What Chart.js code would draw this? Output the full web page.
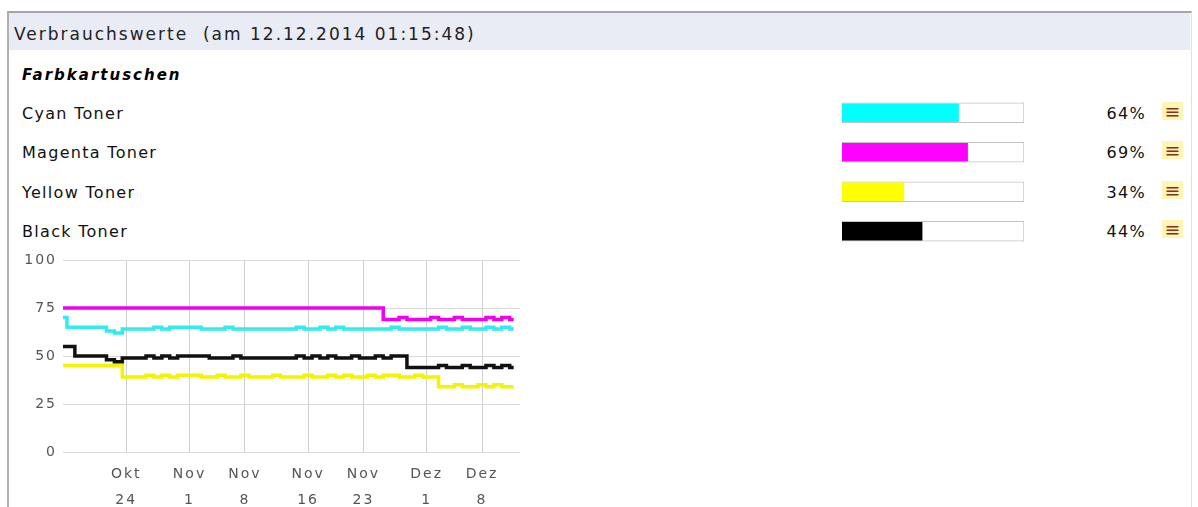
<!DOCTYPE html>
<html><head><meta charset="utf-8">
<script src="https://cdn.jsdelivr.net/npm/chart.js@4.4.1/dist/chart.umd.min.js"></script>
<style>
html,body{margin:0;padding:0;width:1198px;height:507px;overflow:hidden;background:#fff;font-family:"DejaVu Sans",Verdana,sans-serif;}
.abs{position:absolute;white-space:pre;line-height:20px;}
#frame{position:absolute;left:7px;top:11px;width:1182px;height:520px;border-top:2px solid #a6a6a6;border-left:2px solid #b0b0b0;border-right:1px solid #e2e2e2;}
#hdr{position:absolute;left:9px;top:13px;width:1181px;height:37px;background:#e9ebf5;}
#title{left:14px;top:24px;font-size:17px;letter-spacing:2px;color:#222;}
#sub{left:22px;top:65px;font-size:15px;font-weight:bold;font-style:italic;letter-spacing:2px;color:#000;}
.lbl{left:22px;font-size:16px;letter-spacing:1.3px;color:#111;}
.pct{left:1046px;width:100px;text-align:right;font-size:16px;letter-spacing:1.3px;color:#111;}
.ico{position:absolute;left:1162px;width:21px;height:18px;background:#fff5b4;color:#8a2e16;font-size:19px;line-height:18px;text-align:center;}
#barsBox{position:absolute;left:842px;top:93px;}
#histBox{position:absolute;left:0px;top:240px;}
</style>
</head><body>
<div id="frame"></div>
<div id="hdr"></div>
<div id="title" class="abs">Verbrauchswerte  (am 12.12.2014 01:15:48)</div>
<div id="sub" class="abs">Farbkartuschen</div>
<div id="rows"></div>
<div id="barsBox"><canvas id="bars" width="182" height="158"></canvas></div>
<div id="histBox"><canvas id="hist" width="540" height="272"></canvas></div>
<script>
// ---- data ----
const tonerNames = ["Cyan Toner", "Magenta Toner", "Yellow Toner", "Black Toner"];
const tonerLevels = [64, 69, 34, 44];
const tonerColors = ["#00ffff", "#ff00ff", "#ffff00", "#000000"];
const tonerTrack = [100, 100, 100, 100];

// history: one value per day, day 0 = 16.10.2014 ... day 57 = 12.12.2014
const tickDays = [8, 16, 23, 31, 38, 46, 53];
const tickLabels = [["Okt", "24"], ["Nov", "1"], ["Nov", "8"], ["Nov", "16"], ["Nov", "23"], ["Dez", "1"], ["Dez", "8"]];
const yTicks = [0, 25, 50, 75, 100];

const magentaHist = [75,75,75,75,75,75,75,75,75,75, 75,75,75,75,75,75,75,75,75,75,
                     75,75,75,75,75,75,75,75,75,75, 75,75,75,75,75,75,75,75,75,75,
                     75,69,69,70,69,69,69,70,69,69, 70,69,69,69,70,69,70,69];
const cyanHist =    [70,65,65,65,65,65,63,62,64,64, 64,64,65,64,65,65,65,65,64,64,
                     64,65,64,64,64,64,64,64,64,64, 65,64,64,65,64,65,64,64,64,64,
                     64,64,65,64,64,64,64,64,65,64, 64,65,64,64,65,64,65,64];
const blackHist =   [55,55,50,50,50,50,48,47,49,49, 49,50,49,50,49,50,50,50,50,49,
                     49,49,50,49,49,49,49,49,49,49, 50,49,50,49,50,49,49,50,49,49,
                     50,49,50,50,44,44,44,44,45,44, 44,45,44,44,45,44,45,44];
const yellowHist =  [45,45,45,45,45,45,45,45,39,39, 39,40,39,40,39,40,40,40,39,39,
                     40,39,39,40,39,39,39,40,39,39, 39,40,39,39,40,39,40,39,39,40,
                     39,40,40,39,39,40,39,39,34,34, 35,34,34,35,34,35,34,34];
const dayIndex = magentaHist.map((v, i) => i);

// ---- text rows ----
const rows = document.getElementById('rows');
tonerNames.forEach((n, i) => {
  const top = 104 + 39.4 * i;
  rows.insertAdjacentHTML('beforeend',
    `<div class="abs lbl" style="top:${top}px">${n}</div>` +
    `<div class="abs pct" style="top:${top}px">${tonerLevels[i]}%</div>` +
    `<div class="ico" style="top:${top - 2}px">≡</div>`);
});

// ---- toner bars ----
new Chart(document.getElementById('bars'), {
  type: 'bar',
  data: {
    labels: tonerNames,
    datasets: [
      { data: tonerLevels, backgroundColor: tonerColors, borderWidth: 0, barThickness: 18, grouped: false, order: 1 },
      { data: tonerTrack, backgroundColor: '#ffffff', borderColor: '#c4c4c4', borderWidth: 1, borderSkipped: false, barThickness: 20, grouped: false, order: 2 }
    ]
  },
  options: {
    indexAxis: 'y', responsive: false, animation: false,
    layout: { padding: 0 },
    plugins: { legend: { display: false }, tooltip: { enabled: false } },
    scales: { x: { display: false, min: 0, max: 100 }, y: { display: false } }
  }
});

// ---- history line chart ----
const spacing = { id: 'spacing',
  beforeLayout(c) { c.ctx.letterSpacing = '2px'; },
  beforeDraw(c) { c.ctx.letterSpacing = '2px'; } };
const tickFont = { family: 'DejaVu Sans', size: 14 };
function series(data, color) {
  return { data, borderColor: color, backgroundColor: color, borderWidth: 3.5, pointRadius: 0, stepped: 'middle', fill: false };
}
new Chart(document.getElementById('hist'), {
  type: 'line',
  data: {
    labels: dayIndex,
    datasets: [
      series(blackHist, '#111111'),
      series(magentaHist, '#f000f0'),
      series(cyanHist, '#30ecef'),
      series(yellowHist, '#f4f400')
    ]
  },
  options: {
    responsive: false, animation: false,
    layout: { padding: { top: 20, right: 20, left: 0, bottom: 0 } },
    plugins: { legend: { display: false }, tooltip: { enabled: false } },
    scales: {
      x: {
        type: 'linear', min: 0, max: 57.8,
        afterBuildTicks(s) { s.ticks = tickDays.map(v => ({ value: v })); },
        afterFit(s) { s.height = 60; },
        grid: { color: '#d0d0d0', drawTicks: false },
        border: { display: false },
        ticks: { autoSkip: false, maxRotation: 0, padding: 9, color: '#555',
          font: { family: 'DejaVu Sans', size: 14, lineHeight: 26 / 14 },
          callback(v) { const i = tickDays.indexOf(v); return i >= 0 ? tickLabels[i] : ''; } }
      },
      y: {
        min: 0, max: 100,
        afterBuildTicks(s) { s.ticks = yTicks.map(v => ({ value: v })); },
        afterFit(s) { s.width = 63; },
        grid: { color: '#d8d8d8', drawTicks: false },
        border: { display: false },
        ticks: { padding: 6, color: '#555', font: tickFont }
      }
    }
  },
  plugins: [spacing]
});
</script>
</body></html>
